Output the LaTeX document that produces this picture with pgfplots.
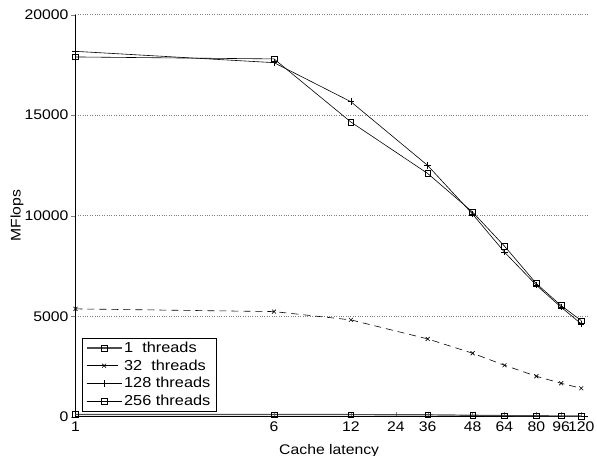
\documentclass[border=0pt]{standalone}
\usepackage{fontspec}
\setmainfont[FakeStretch=1.13]{Liberation Sans}
\usepackage{pgfplots}
\pgfplotsset{compat=1.18}
\newcommand\T[1]{\textnormal{#1}}
\begin{document}
\begin{tikzpicture}[x=1bp,y=1bp]
\begin{axis}[
  at={(0,0)}, anchor=south west,
  scale only axis, width=512.5bp, height=402bp,
  xmode=log, xmin=1, xmax=102,
  ymin=0, ymax=20000,
  axis x line*=bottom, axis y line*=left,
  axis line style={-, line width=0.6pt},
  xtick={1,6,12,18,24,36,48,64,80,96},
  xticklabels={\T{1},\T{6},\T{12},\T{24},\T{36},\T{48},\T{64},\T{80},\T{96},\T{120}},
  ytick={0,5000,10000,15000,20000},
  yticklabels={\T{0},\T{5000},\T{10000},\T{15000},\T{20000}},
  xtick align=inside, ytick align=outside,
  major tick length=4.5bp,
  minor tick num=0,
  scaled y ticks=false,
  ymajorgrids, major grid style={gray, dotted, line width=0.6pt},
  tick label style={font=\fontsize{14}{16}\selectfont},
  yticklabel style={xshift=1bp},
  xticklabel style={yshift=-2bp},
  xlabel={Cache latency}, ylabel={MFlops},
  label style={font=\fontsize{14}{16}\selectfont},
  xlabel style={at={(axis description cs:0.495,0)}, anchor=center, yshift=-34bp},
  ylabel style={at={(axis description cs:-0.114,0.5)}, anchor=center},
  legend style={at={(axis description cs:0.012,0.013)}, anchor=south west,
    font=\fontsize{14.5}{16}\selectfont, draw=black, line width=0.6pt,
    row sep=1.8bp, inner ysep=2bp, inner xsep=4bp},
  legend cell align=left,
  legend image code/.code={\path (0bp,0bp) -- (35bp,0bp); \draw[#1] (5bp,0bp) -- (30bp,0bp); \draw[#1,mark repeat=2,mark phase=2] plot coordinates {(5bp,0bp) (17.5bp,0bp) (30bp,0bp)};},
  every axis plot/.append style={line width=0.6pt, black},
]
\addplot[mark=square, mark size=2.8bp, line width=1.2pt, gray!60!black, mark options={solid, black, line width=0.5pt}] coordinates {
(1,110) (6,105) (12,105) (24,95) (36,70) (48,55) (64,45) (80,40) (96,35)};
\addlegendentry{1\ \ threads}
\addplot[mark=x, mark size=2.8bp, dashed, dash pattern=on 7bp off 5bp, mark options={solid}] coordinates {
(1,5364) (6,5229) (12,4816) (24,3870) (36,3157) (48,2560) (64,2012) (80,1663) (96,1414)};
\addlegendentry{32\ \ threads}
\addplot[mark=+, mark size=3.2bp] coordinates {
(1,18177) (6,17614) (12,15672) (24,12500) (36,10080) (48,8187) (64,6544) (80,5448) (96,4617)};
\addlegendentry{128 threads}
\addplot[mark=square, mark size=2.8bp, mark options={fill=gray!40}] coordinates {
(1,17898) (6,17800) (12,14661) (24,12101) (36,10179) (48,8486) (64,6624) (80,5528) (96,4781)};
\addlegendentry{256 threads}
\end{axis}
\pgfresetboundingbox
\useasboundingbox (-75.5bp,-39.3bp) rectangle (521.5bp,416.7bp);
\end{tikzpicture}
\end{document}
